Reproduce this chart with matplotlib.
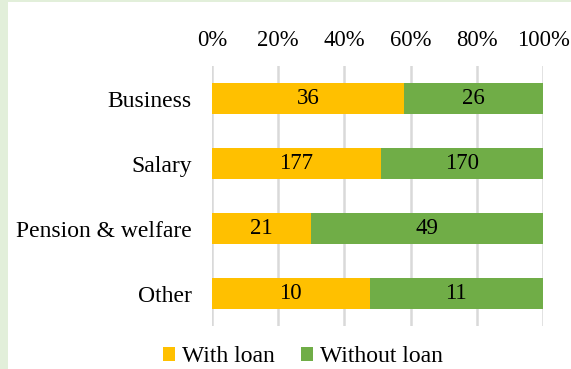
import matplotlib
matplotlib.use("Agg")
import matplotlib.pyplot as plt
from matplotlib.patches import Rectangle
import numpy as np

categories = ["Business", "Salary", "Pension & welfare", "Other"]
with_loan = [36, 177, 21, 10]
without_loan = [26, 170, 49, 11]
tick_labels = ["0%", "20%", "40%", "60%", "80%", "100%"]

YELLOW = "#FFC000"
GREEN = "#70AD47"
GRID = "#D9D9D9"
FS = 17

plt.rcParams["font.family"] = ["Liberation Serif", "DejaVu Serif"]

fig = plt.figure(figsize=(5.71, 3.69), dpi=100)
fig.patch.set_facecolor("white")

# light green frame at the left and top edge
fig.patches.append(Rectangle((0, 0), 8 / 571, 1, transform=fig.transFigure,
                             facecolor="#E2EFDA", edgecolor="none", zorder=0))
fig.patches.append(Rectangle((0, 1 - 2 / 369), 1, 2 / 369, transform=fig.transFigure,
                             facecolor="#E2EFDA", edgecolor="none", zorder=0))

ax = fig.add_axes([212 / 571, 1 - 326 / 369, 331 / 571, 260 / 369])

w = np.array(with_loan, dtype=float)
wo = np.array(without_loan, dtype=float)
tot = w + wo
pw = w / tot
pwo = wo / tot
y = np.arange(len(categories))

bh = 0.49
ax.barh(y, pw, height=bh, color=YELLOW, label="With loan", zorder=3)
ax.barh(y, pwo, left=pw, height=bh, color=GREEN, label="Without loan", zorder=3)

for i in range(len(categories)):
    ax.text(pw[i] / 2, y[i], f"{with_loan[i]}", ha="center", va="center",
            fontsize=16.5, color="black", zorder=4)
    ax.text(pw[i] + pwo[i] / 2, y[i], f"{without_loan[i]}", ha="center", va="center",
            fontsize=16.5, color="black", zorder=4)

ax.set_xlim(0, 1)
ax.set_ylim(len(categories) - 0.5, -0.5)
ax.set_xticks(np.linspace(0, 1, 6))
ax.set_xticklabels(tick_labels, fontsize=16.3)
ax.xaxis.tick_top()
ax.tick_params(axis="x", length=0, pad=11)
ax.set_yticks(y)
ax.set_yticklabels(categories, fontsize=FS)
ax.tick_params(axis="y", length=0, pad=14.5)
ax.grid(axis="x", color=GRID, linewidth=1.8, zorder=0)
for s in ax.spines.values():
    s.set_visible(False)

handles, labels = ax.get_legend_handles_labels()
leg = fig.legend(handles, labels, loc="center", bbox_to_anchor=(303 / 571, 1 - 357 / 369),
                 ncol=2, frameon=False, fontsize=FS, handlelength=0.5, handleheight=0.5,
                 handletextpad=0.3, columnspacing=1.1, borderaxespad=0, borderpad=0)

fig.savefig("out.png", dpi=100, facecolor="white")
